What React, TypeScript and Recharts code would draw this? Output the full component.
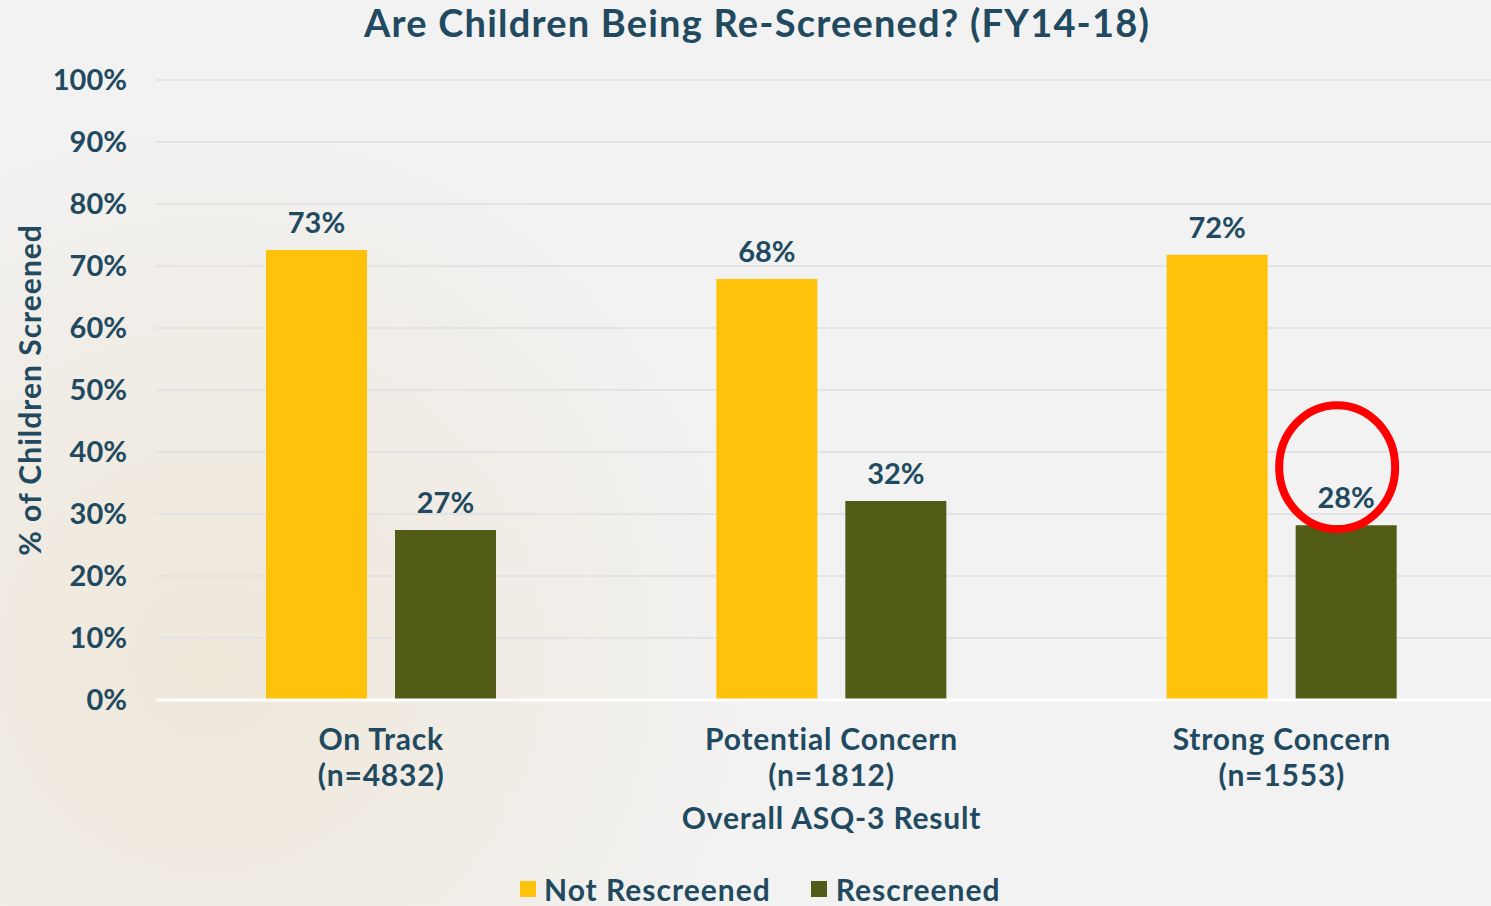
import React from 'react';
import { BarChart, Bar, XAxis, YAxis, CartesianGrid, Legend, LabelList } from 'recharts';

const categories = ['On Track', 'Potential Concern', 'Strong Concern'];
const sampleSizes = ['(n=4832)', '(n=1812)', '(n=1553)'];
const notRescreened = [72.6, 67.9, 71.8];
const rescreened = [27.4, 32.1, 28.2];
const yTicks = [0, 10, 20, 30, 40, 50, 60, 70, 80, 90, 100];
const seriesNames = ['Not Rescreened', 'Rescreened'];
const highlightIndex = 2;

const TITLE = 'Are Children Being Re-Screened? (FY14-18)';
const Y_TITLE = '% of Children Screened';
const X_TITLE = 'Overall ASQ-3 Result';

const TEXT = '#214a60';
const YELLOW = '#fec20b';
const GREEN = '#535c16';
const FONT = 'Lato, "Noto Sans", sans-serif';

const data = categories.map((c, i) => ({
  category: c,
  n: sampleSizes[i],
  notRescreened: notRescreened[i],
  rescreened: rescreened[i],
}));

const XTick = (props: any) => {
  const { x, y, payload, index } = props;
  return (
    <g>
      <text x={x} y={y + 50} textAnchor="middle" fill={TEXT} fontSize={30} fontWeight={700} fontFamily={FONT} letterSpacing={0.8}>
        {payload.value}
      </text>
      <text x={x} y={y + 86} textAnchor="middle" fill={TEXT} fontSize={30} fontWeight={700} fontFamily={FONT} letterSpacing={0.8}>
        {sampleSizes[index]}
      </text>
    </g>
  );
};

const makeLabel = (highlight: boolean) => (props: any) => {
  const { x, y, width, value, index } = props;
  const cx = x + width / 2;
  return (
    <g>
      <text x={cx} y={y - 17} textAnchor="middle" fill={TEXT} fontSize={29} fontWeight={700} fontFamily={FONT}>
        {`${Math.round(value)}%`}
      </text>
      {highlight && index === highlightIndex ? (
        <ellipse cx={cx - 9} cy={y - 58} rx={58} ry={62} fill="none" stroke="#ff0000" strokeWidth={8} />
      ) : null}
    </g>
  );
};

const LegendContent = () => (
  <div style={{ display: 'flex', alignItems: 'center', fontFamily: FONT, fontWeight: 700, fontSize: 30, color: TEXT, lineHeight: '30px', whiteSpace: 'nowrap', letterSpacing: 1 }}>
    <span style={{ width: 16, height: 16, background: YELLOW, display: 'inline-block', marginRight: 8 }} />
    <span style={{ marginRight: 40 }}>{seriesNames[0]}</span>
    <span style={{ width: 16, height: 16, background: GREEN, display: 'inline-block', marginRight: 9 }} />
    <span>{seriesNames[1]}</span>
  </div>
);

export default function App() {
  return (
    <div
      style={{
        position: 'absolute',
        left: 0,
        top: 0,
        width: 1491,
        height: 906,
        overflow: 'hidden',
        background:
          'radial-gradient(circle at 210px 660px, rgba(239,231,218,1) 0px, rgba(240,234,224,0.8) 250px, rgba(242,242,242,0) 560px), #f2f2f2',
      }}
    >
      <svg width={1491} height={60} style={{ position: 'absolute', left: 0, top: 0 }}>
        <text x={757} y={37} textAnchor="middle" fill={TEXT} fontSize={38} fontWeight={700} fontFamily={FONT} letterSpacing={1.2}>
          {TITLE}
        </text>
      </svg>
      <div style={{ position: 'absolute', left: 0, top: 0 }}>
        <BarChart
          width={1520}
          height={906}
          data={data}
          margin={{ top: 80, right: 13, bottom: 0, left: 0 }}
          barCategoryGap={111}
          barGap={28}
        >
          <CartesianGrid vertical={false} stroke="#e3e3e3" strokeWidth={2} />
          <YAxis
            width={156}
            domain={[0, 100]}
            ticks={yTicks}
            interval={0}
            axisLine={false}
            tickLine={false}
            tickSize={0}
            tickMargin={29}
            tickFormatter={(v: number) => `${v}%`}
            tick={{ fill: TEXT, fontSize: 29, fontWeight: 700, fontFamily: FONT }}
            label={{
              content: (p: any) => {
                const vb = p.viewBox || {};
                const cy = vb.y + vb.height / 2;
                return (
                  <text x={41} y={cy} transform={`rotate(-90, 41, ${cy})`} textAnchor="middle" fill={TEXT} fontSize={30} fontWeight={700} fontFamily={FONT} letterSpacing={1}>
                    {Y_TITLE}
                  </text>
                );
              },
            }}
          />
          <XAxis
            dataKey="category"
            height={206}
            axisLine={{ stroke: '#ffffff', strokeWidth: 3 }}
            tickLine={false}
            tickSize={0}
            tickMargin={0}
            interval={0}
            tick={<XTick />}
            label={{
              content: (p: any) => {
                const vb = p.viewBox || {};
                return (
                  <text x={vb.x + vb.width / 2} y={vb.y + 129} textAnchor="middle" fill={TEXT} fontSize={30} fontWeight={700} fontFamily={FONT} letterSpacing={0.8}>
                    {X_TITLE}
                  </text>
                );
              },
            }}
          />
          <Legend
            layout="horizontal"
            verticalAlign="middle"
            align="center"
            content={<LegendContent />}
            wrapperStyle={{ top: 874, left: 520, width: 'auto' }}
          />
          <Bar dataKey="notRescreened" name={seriesNames[0]} fill={YELLOW} barSize={101} isAnimationActive={false}>
            <LabelList dataKey="notRescreened" content={makeLabel(false)} />
          </Bar>
          <Bar dataKey="rescreened" name={seriesNames[1]} fill={GREEN} barSize={101} isAnimationActive={false}>
            <LabelList dataKey="rescreened" content={makeLabel(true)} />
          </Bar>
        </BarChart>
      </div>
    </div>
  );
}
